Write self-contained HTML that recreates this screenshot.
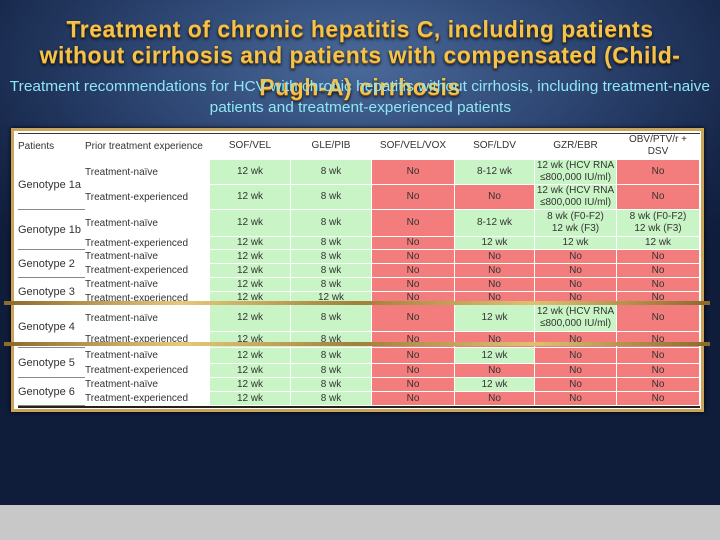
<!DOCTYPE html>
<html><head><meta charset="utf-8"><style>
body{margin:0;width:720px;height:540px;overflow:hidden;position:relative;font-family:"Liberation Sans",sans-serif;
background:radial-gradient(ellipse 70% 45% at 50% 12%,#4a6a9a 0%,#2c4470 45%,#162648 80%,#0f1c3a 100%);}
.t{position:absolute;left:0;width:720px;text-align:center;color:#f5c24a;font-weight:bold;font-size:23px;letter-spacing:0.5px;white-space:nowrap;
text-shadow:0 1px 0 #8a5a10,0 2px 3px #000;}
.s{position:absolute;left:0;width:720px;text-align:center;color:#8fe6f6;font-size:15px;white-space:nowrap}
#panel{position:absolute;left:11px;top:128px;width:693px;height:284px;background:#fff;border:3px solid #c9a45a;box-sizing:border-box;box-shadow:0 0 4px #000}
.c{position:absolute;box-sizing:border-box;font-size:10px;color:#333;display:flex;align-items:center;justify-content:center;text-align:center;line-height:12px;border-right:1px solid #fff;border-bottom:1px solid #fff}
.g{background:#c9f5c6}.r{background:#f37c7c}
.l{justify-content:flex-start;background:#fff;border:none}
.band{position:absolute;left:4px;width:706px;height:4px;background:linear-gradient(90deg,#8a6a2a,#e6c97a,#a0803a,#e0c070,#8a6a2a)}
</style></head><body>
<div class="t" style="top:16px">Treatment of chronic hepatitis C, including patients</div>
<div class="t" style="top:42px">without cirrhosis and patients with compensated (Child-</div>
<div class="t" style="top:74px">Pugh-A) cirrhosis</div>
<div class="s" style="top:78px"><span style="display:inline-block;transform:scaleX(1.03)">Treatment recommendations for HCV with chronic hepatitis without cirrhosis, including treatment-naive</span></div>
<div class="s" style="top:99px"><span style="display:inline-block;transform:scaleX(1.03)">patients and treatment-experienced patients</span></div>
<div id="panel"></div>
<div style="position:absolute;left:0;top:505px;width:720px;height:35px;background:#c8c8c8"></div>
<script>
const headers=["Patients","Prior treatment experience","SOF/VEL","GLE/PIB","SOF/VEL/VOX","SOF/LDV","GZR/EBR","OBV/PTV/r +<br>DSV"];
const genotypes=["Genotype 1a","Genotype 1b","Genotype 2","Genotype 3","Genotype 4","Genotype 5","Genotype 6"];
const H="12 wk (HCV RNA<br>≤800,000 IU/ml)", F="8 wk (F0-F2)<br>12 wk (F3)";
const rows=[
[0,"Treatment-naïve",["12 wk","8 wk","No","8-12 wk",H,"No"]],
[0,"Treatment-experienced",["12 wk","8 wk","No","No",H,"No"]],
[1,"Treatment-naïve",["12 wk","8 wk","No","8-12 wk",F,F]],
[1,"Treatment-experienced",["12 wk","8 wk","No","12 wk","12 wk","12 wk"]],
[2,"Treatment-naïve",["12 wk","8 wk","No","No","No","No"]],
[2,"Treatment-experienced",["12 wk","8 wk","No","No","No","No"]],
[3,"Treatment-naïve",["12 wk","8 wk","No","No","No","No"]],
[3,"Treatment-experienced",["12 wk","12 wk","No","No","No","No"]],
[4,"Treatment-naïve",["12 wk","8 wk","No","12 wk",H,"No"]],
[4,"Treatment-experienced",["12 wk","8 wk","No","No","No","No"]],
[5,"Treatment-naïve",["12 wk","8 wk","No","12 wk","No","No"]],
[5,"Treatment-experienced",["12 wk","8 wk","No","No","No","No"]],
[6,"Treatment-naïve",["12 wk","8 wk","No","12 wk","No","No"]],
[6,"Treatment-experienced",["12 wk","8 wk","No","No","No","No"]]];
const colX=[18,85,210,291,372,455,535,617,700];
const rowY=[133,160,185,210,237,250,264,278,292,305,332,348,364,378,392,406];
const P=document.getElementById('panel');const ox=14,oy=131;
function cell(x,y,w,h,html,cls){const d=document.createElement('div');d.className='c '+cls;
d.style.cssText=`left:${x-ox}px;top:${y-oy}px;width:${w}px;height:${h}px`;d.innerHTML=html;P.appendChild(d);return d;}
headers.forEach((h,i)=>{const d=cell(colX[i],rowY[0],colX[i+1]-colX[i],rowY[1]-rowY[0],h,i<2?'l':'');
if(i>=2)d.style.background='#fff';

});
const ln=document.createElement('div');ln.style.cssText=`position:absolute;left:${18-ox}px;top:${133-oy}px;width:682px;height:1px;background:#333`;P.appendChild(ln);
rows.forEach((r,i)=>{const y=rowY[i+1],h=rowY[i+2]-y;
const p=cell(colX[1],y,colX[2]-colX[1],h,r[1],'l');


r[2].forEach((v,j)=>{const c=cell(colX[j+2],y,colX[j+3]-colX[j+2],h,v,(j<2||v!=="No")?'g':'r');

});
if(i%2==0){const g=r[0],y2=rowY[i+3];const d=cell(colX[0],y,colX[1]-colX[0],y2-y,genotypes[g],'l');
d.style.fontSize='11px';


const s=document.createElement('div');s.style.cssText=`position:absolute;left:${18-ox}px;top:${y2-oy-1}px;width:192px;height:1px;background:#888`;P.appendChild(s);}
});
const b=document.createElement('div');b.style.cssText=`position:absolute;left:${18-ox}px;top:${406-oy}px;width:682px;height:2px;background:#222`;P.appendChild(b);
[301,342].forEach((y,k)=>{const d=document.createElement('div');d.className='band';d.style.top=y+'px';


document.body.appendChild(d);});
</script>
</body></html>
